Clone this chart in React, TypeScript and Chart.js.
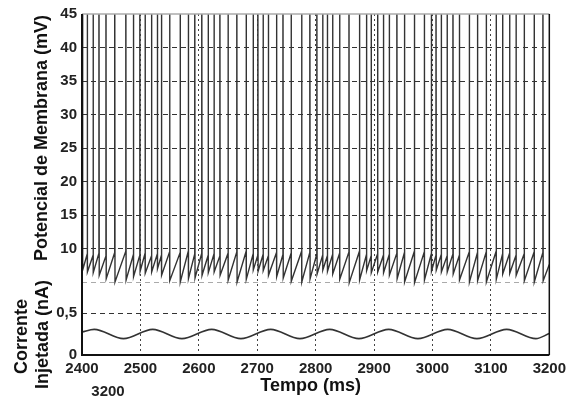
import React, { useEffect, useRef } from "react";
import { Chart, registerables } from "chart.js";

Chart.register(...registerables);

// Spike times (ms)
const SPIKE_TIMES = [
  2401, 2409, 2419, 2429, 2441, 2456, 2475, 2488, 2499, 2508, 2519, 2529, 2536, 2550, 2568, 2582, 2593,
  2605, 2616, 2626, 2636, 2650, 2665, 2681, 2693, 2701, 2710, 2719, 2733, 2744, 2758, 2776, 2790,
  2802, 2812, 2820, 2829, 2841, 2857, 2875, 2887, 2895, 2906, 2916, 2926, 2939, 2952, 2969, 2986,
  2998, 3006, 3015, 3025, 3035, 3046, 3063, 3077, 3092, 3109, 3120, 3132, 3143, 3157, 3174, 3189,
];
// Potential just before each spike (mV)
const THRESHOLDS = [
  8.8, 9.2, 9.0, 9.3, 8.9, 9.4, 9.6, 9.1, 9.0, 9.3, 8.9, 9.2, 9.0, 9.5, 9.4, 9.6, 9.2,
  9.3, 9.0, 9.2, 8.9, 9.3, 9.5, 9.6, 9.2, 9.0, 9.1, 8.9, 9.4, 9.1, 9.3, 9.6, 9.4,
  9.2, 9.0, 8.9, 9.1, 9.3, 9.5, 9.6, 9.1, 8.9, 9.2, 9.0, 9.1, 9.3, 9.4, 9.6, 9.5,
  9.2, 9.0, 9.1, 8.9, 9.2, 9.0, 9.5, 9.4, 9.5, 9.6, 9.2, 9.3, 9.0, 9.2, 9.5, 9.4,
];
// Potential right after each spike (mV)
const TROUGHS = [
  6.8, 6.5, 6.4, 6.0, 5.5, 5.0, 5.3, 5.8, 6.6, 6.3, 6.5, 7.0, 6.0, 5.2, 5.0, 5.5, 5.6,
  6.0, 6.4, 6.5, 6.0, 5.3, 5.0, 5.4, 6.8, 6.6, 6.7, 6.0, 5.8, 5.6, 5.1, 5.0, 5.5,
  6.2, 6.8, 6.6, 6.2, 5.4, 4.9, 5.3, 6.7, 6.4, 6.5, 6.4, 6.0, 5.5, 5.0, 4.9, 5.3,
  6.6, 6.8, 6.5, 6.5, 6.2, 5.3, 5.0, 5.2, 5.0, 5.4, 6.2, 6.3, 6.0, 5.2, 5.0, 5.2,
];
const SPIKE_PEAK = 60;
const TRACE_START = { t: 2400, v: 8.4 };
const TRACE_END = { t: 3200, v: 7.6 };

// Injected current (nA): extremes of the sinusoidal drive
const CURRENT_TIMES = [
  2400, 2421, 2471, 2521, 2571, 2622, 2672, 2723, 2773, 2824, 2874, 2925, 2975, 3026, 3076, 3127, 3177, 3200,
];
const CURRENT_VALUES = [
  0.275, 0.305, 0.195, 0.305, 0.195, 0.305, 0.195, 0.305, 0.195, 0.305, 0.195, 0.305, 0.195, 0.305, 0.195, 0.305, 0.195, 0.255,
];

const X_TICKS = [2400, 2500, 2600, 2700, 2800, 2900, 3000, 3100, 3200];
const V_TICKS = [5, 10, 15, 20, 25, 30, 35, 40, 45];
const I_TICKS = [0, 0.5];

const TICK_FONT = { family: "'Liberation Sans', Arial, sans-serif", size: 15, weight: "bold" as const };
const TITLE_FONT = "bold 18px 'Liberation Sans', Arial, sans-serif";

function buildVoltage() {
  const pts: { x: number; y: number }[] = [{ x: TRACE_START.t, y: TRACE_START.v }];
  SPIKE_TIMES.forEach((t, i) => {
    pts.push({ x: t, y: THRESHOLDS[i] });
    pts.push({ x: t, y: SPIKE_PEAK });
    pts.push({ x: t + 0.5, y: TROUGHS[i] });
  });
  pts.push({ x: TRACE_END.t, y: TRACE_END.v });
  return pts;
}

const decorPlugin = {
  id: "decor",
  afterDraw(chart: any) {
    const { ctx, chartArea: a } = chart;
    ctx.save();
    ctx.lineCap = "butt";
    ctx.strokeStyle = "#aaaaaa";
    ctx.lineWidth = 1.5;
    ctx.beginPath();
    ctx.moveTo(a.left, a.top);
    ctx.lineTo(a.right, a.top);
    ctx.stroke();
    ctx.strokeStyle = "#111";
    ctx.lineWidth = 2;
    ctx.beginPath();
    ctx.moveTo(a.left, a.top);
    ctx.lineTo(a.left, a.bottom);
    ctx.lineTo(a.right, a.bottom);
    ctx.stroke();
    ctx.lineWidth = 1.5;
    ctx.beginPath();
    ctx.moveTo(a.right, a.top);
    ctx.lineTo(a.right, a.bottom);
    ctx.stroke();
    ctx.fillStyle = "#111";
    ctx.font = TITLE_FONT;
    ctx.textAlign = "center";
    ctx.textBaseline = "middle";
    ctx.fillText("Tempo (ms)", (a.left + a.right) / 2 - 5, 386);
    const rot = (text: string, x: number, y: number) => {
      ctx.save();
      ctx.translate(x, y);
      ctx.rotate(-Math.PI / 2);
      ctx.fillText(text, 0, 0);
      ctx.restore();
    };
    const yV = chart.scales.yV;
    const yI = chart.scales.yI;
    rot("Potencial de Membrana (mV)", 42, (yV.top + yV.bottom) / 2 - 10);
    rot("Corrente", 22, (yI.top + yI.bottom) / 2 + 18);
    rot("Injetada (nA)", 43, (yI.top + yI.bottom) / 2 + 16);
    ctx.font = "bold 15px 'Liberation Sans', Arial, sans-serif";
    ctx.fillStyle = "#222";
    ctx.fillText("3200", 108, 392);
    ctx.restore();
  },
};

export default function App() {
  const ref = useRef<HTMLCanvasElement | null>(null);
  useEffect(() => {
    if (!ref.current) return;
    const chart = new Chart(ref.current, {
      type: "line",
      data: {
        datasets: [
          {
            label: "V",
            data: buildVoltage(),
            yAxisID: "yV",
            borderColor: "#333",
            borderWidth: 1.4,
            pointRadius: 0,
            tension: 0,
            clip: { left: 0, right: 0, top: 0, bottom: 8 } as any,
          },
          {
            label: "I",
            data: CURRENT_TIMES.map((t, i) => ({ x: t, y: CURRENT_VALUES[i] })),
            yAxisID: "yI",
            borderColor: "#333",
            borderWidth: 1.6,
            pointRadius: 0,
            cubicInterpolationMode: "monotone",
          },
        ],
      },
      options: {
        responsive: false,
        animation: false,
        events: [],
        layout: { padding: { left: 22, right: 21, top: 14, bottom: 0 } },
        plugins: { legend: { display: false }, tooltip: { enabled: false } },
        scales: {
          x: {
            type: "linear",
            min: 2400,
            max: 3200,
            afterBuildTicks: (s: any) => {
              s.ticks = X_TICKS.map((v) => ({ value: v }));
            },
            afterFit: (s: any) => {
              s.height = 49;
            },
            ticks: {
              font: TICK_FONT,
              color: "#222",
              padding: 5,
              maxRotation: 0,
              autoSkip: false,
              callback: (v: any) => String(v),
            },
            grid: {
              drawTicks: false,
              lineWidth: 1,
              color: (c: any) => (c.tick && (c.tick.value === 2400 || c.tick.value === 3200) ? "rgba(0,0,0,0)" : "#444"),
            },
            border: { display: false, dash: [2, 3] },
          },
          yI: {
            type: "linear",
            position: "left",
            stack: "panels",
            stackWeight: 73,
            min: 0,
            max: 0.87,
            afterBuildTicks: (s: any) => {
              s.ticks = I_TICKS.map((v) => ({ value: v }));
            },
            afterFit: (s: any) => {
              s.width = 60;
            },
            ticks: {
              font: TICK_FONT,
              color: "#222",
              padding: 5,
              autoSkip: false,
              callback: (v: any) => String(v).replace(".", ","),
            },
            grid: {
              drawTicks: false,
              color: (c: any) => (c.tick && c.tick.value === 0 ? "rgba(0,0,0,0)" : "#333"),
            },
            border: { display: false, dash: [5, 4] },
          },
          yV: {
            type: "linear",
            position: "left",
            stack: "panels",
            stackWeight: 268,
            min: 5,
            max: 45,
            afterBuildTicks: (s: any) => {
              s.ticks = V_TICKS.map((v) => ({ value: v }));
            },
            afterFit: (s: any) => {
              s.width = 60;
            },
            ticks: {
              font: TICK_FONT,
              color: "#222",
              padding: 5,
              autoSkip: false,
              callback: (v: any) => (v === 5 ? "" : String(v)),
            },
            grid: {
              drawTicks: false,
              color: (c: any) =>
                c.tick && c.tick.value === 45 ? "rgba(0,0,0,0)" : c.tick && c.tick.value === 5 ? "#aaaaaa" : "#333",
            },
            border: { display: false, dash: [5, 4] },
          },
        },
      },
      plugins: [decorPlugin],
    } as any);
    return () => chart.destroy();
  }, []);
  return (
    <div style={{ position: "absolute", left: 0, top: 0, width: 571, height: 404, background: "#fff" }}>
      <canvas ref={ref} width={571} height={404} style={{ display: "block" }} />
    </div>
  );
}
